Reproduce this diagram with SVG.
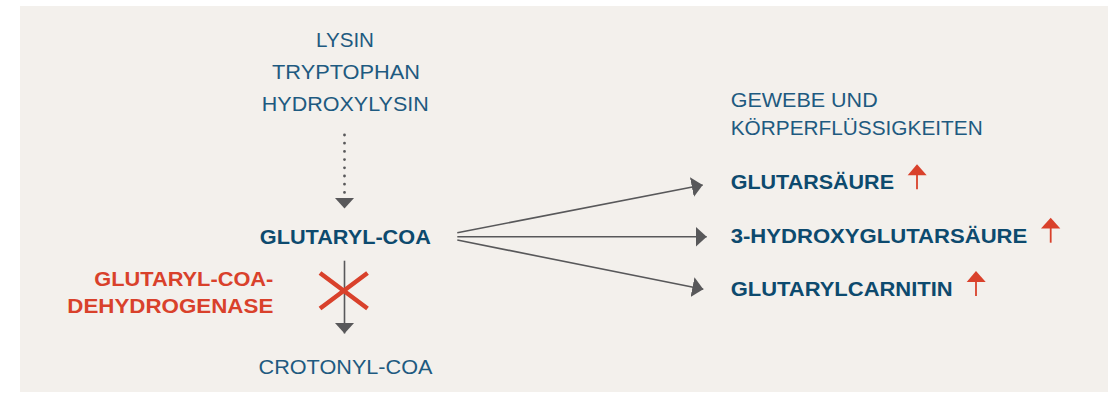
<svg xmlns="http://www.w3.org/2000/svg" width="1108" height="393" viewBox="0 0 1108 393">
  <style>
    .lt { font-family: "Liberation Sans", Arial, sans-serif; font-size: 21px; fill: #1e5a80; }
    .bd { font-family: "Liberation Sans", Arial, sans-serif; font-size: 21px; font-weight: bold; fill: #0d4a6e; }
    .rd { font-family: "Liberation Sans", Arial, sans-serif; font-size: 21px; font-weight: bold; fill: #d9412b; }
    .conn { stroke: #58585a; stroke-width: 1.6; fill: none; }
    .dots { stroke: #58585a; stroke-width: 2.8; stroke-dasharray: 0 8.2; stroke-linecap: round; fill: none; }
    .up { stroke: #d9412b; stroke-width: 1.8; fill: none; }
    .uph { fill: #d9412b; }
  </style>
  <defs>
    <marker id="ah" markerUnits="userSpaceOnUse" markerWidth="12" markerHeight="20" refX="11" refY="10" orient="auto">
      <path d="M0,0 L11,10 L0,20 z" fill="#58585a"/>
    </marker>
  </defs>
  <rect x="20" y="6" width="1088" height="386" fill="#f3f0ec"/>

  <g id="connectors">
    <path class="dots" d="M344.5,135 V208.5" marker-end="url(#ah)"/>
    <path class="conn" d="M344.5,260.7 V333.5" marker-end="url(#ah)"/>
    <path class="conn" d="M457.3,232.7 L702.7,185" marker-end="url(#ah)"/>
    <path class="conn" d="M457.3,236.7 L706.7,236.7" marker-end="url(#ah)"/>
    <path class="conn" d="M457.3,240 L703.3,289.3" marker-end="url(#ah)"/>
  </g>

  <g id="sources">
    <text class="lt" x="345" y="47" text-anchor="middle" textLength="58" lengthAdjust="spacingAndGlyphs">LYSIN</text>
    <text class="lt" x="346" y="79" text-anchor="middle" textLength="148" lengthAdjust="spacingAndGlyphs">TRYPTOPHAN</text>
    <text class="lt" x="345.3" y="111" text-anchor="middle" textLength="167" lengthAdjust="spacingAndGlyphs">HYDROXYLYSIN</text>
  </g>

  <g id="glutaryl-coa">
    <text class="bd" x="345.3" y="244" text-anchor="middle" textLength="171" lengthAdjust="spacingAndGlyphs">GLUTARYL-COA</text>
  </g>

  <g id="enzyme">
    <text class="rd" x="273.3" y="286" text-anchor="end" textLength="179" lengthAdjust="spacingAndGlyphs">GLUTARYL-COA-</text>
    <text class="rd" x="273.3" y="312.7" text-anchor="end" textLength="206" lengthAdjust="spacingAndGlyphs">DEHYDROGENASE</text>
  </g>

  <g id="block">
    <path d="M320,273 L367.5,308.5 M320,308.5 L367.5,273" stroke="#d9412b" stroke-width="4.5" fill="none"/>
  </g>

  <g id="crotonyl-coa">
    <text class="lt" x="345.5" y="374.3" text-anchor="middle" textLength="174" lengthAdjust="spacingAndGlyphs">CROTONYL-COA</text>
  </g>

  <g id="tissue">
    <text class="lt" x="730.7" y="106.5" textLength="147" lengthAdjust="spacingAndGlyphs">GEWEBE UND</text>
    <text class="lt" x="730.7" y="135" textLength="252" lengthAdjust="spacingAndGlyphs">KÖRPERFLÜSSIGKEITEN</text>
  </g>

  <g id="glutarsaeure">
    <text class="bd" x="730.7" y="189.3" textLength="163.3" lengthAdjust="spacingAndGlyphs">GLUTARSÄURE</text>
    <path class="up" d="M917,174 V189.3"/>
    <path class="uph" d="M907.7,175.3 L917,164.3 L926.7,175.3 z"/>
  </g>

  <g id="hydroxyglutarsaeure">
    <text class="bd" x="730.7" y="242.7" textLength="296.6" lengthAdjust="spacingAndGlyphs">3-HYDROXYGLUTARSÄURE</text>
    <path class="up" d="M1050.7,227.5 V242.7"/>
    <path class="uph" d="M1041,228.5 L1050.7,217.7 L1060.3,228.5 z"/>
  </g>

  <g id="glutarylcarnitin">
    <text class="bd" x="730.7" y="296" textLength="222" lengthAdjust="spacingAndGlyphs">GLUTARYLCARNITIN</text>
    <path class="up" d="M976,281 V296"/>
    <path class="uph" d="M966.7,282 L976,271 L985.7,282 z"/>
  </g>
</svg>
